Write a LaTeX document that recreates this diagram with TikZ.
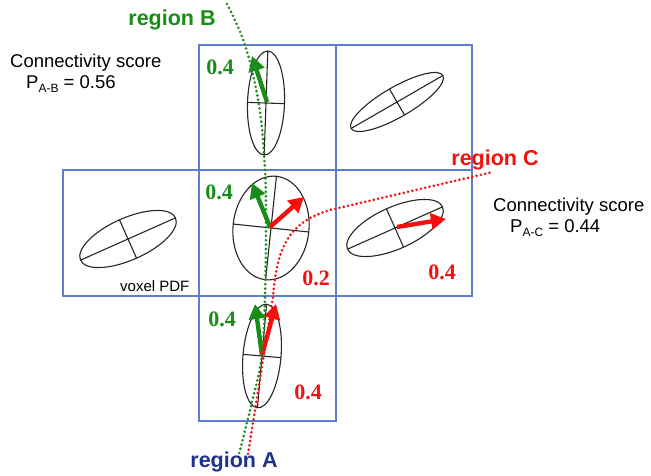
\documentclass[tikz,border=0pt]{standalone}
\usepackage{fontspec}
\setmainfont{Liberation Serif}
\setsansfont{Liberation Sans}
\usetikzlibrary{arrows.meta}
\definecolor{gridblue}{RGB}{95,125,205}
\definecolor{tractgreen}{RGB}{25,140,25}
\definecolor{tractred}{RGB}{245,15,15}
\definecolor{navyblue}{RGB}{30,50,140}
\begin{document}
\begin{tikzpicture}[x=1pt,y=-1pt,
  cell/.style={draw=gridblue,line width=1.3pt},
  pdf/.style={draw=black!85,line width=1.1pt},
  tract/.style={line width=2.9pt,dash pattern=on 0pt off 4.4pt,line cap=round},
  vec/.style={line width=4.4pt,-{Triangle[length=15pt,width=16pt]}},
  reglabel/.style={font=\fontsize{21.5}{24}\selectfont\sffamily\bfseries,inner sep=0pt},
  numlabel/.style={font=\fontsize{22}{24}\selectfont\rmfamily\bfseries,inner sep=0pt},
  scorelabel/.style={font=\fontsize{18.5}{21}\selectfont\sffamily,inner sep=0pt,anchor=west}
]
\useasboundingbox (0,0) rectangle (651,475);
\fill[white] (0,0) rectangle (651,475);
% grid cells
\draw[cell] (199,45) rectangle (336,170);
\draw[cell] (336,45) rectangle (472,170);
\draw[cell] (63,170) rectangle (199,296);
\draw[cell] (199,170) rectangle (336,296);
\draw[cell] (336,170) rectangle (472,296);
\draw[cell] (199,296) rectangle (336,421);
% voxel PDFs
\begin{scope}[shift={(266,103)},rotate=-2]
 \draw[pdf] (0,0) ellipse [x radius=18.5pt,y radius=52pt];
 \draw[pdf] (-18.5,0) -- (18.5,0) (0,-52) -- (0,52);
\end{scope}
\begin{scope}[shift={(397,102)},rotate=30]
 \draw[pdf] (0,0) ellipse [x radius=53pt,y radius=15pt];
 \draw[pdf] (-53,0) -- (53,0) (0,-15) -- (0,15);
\end{scope}
\begin{scope}[shift={(128,239)},rotate=24]
 \draw[pdf] (0,0) ellipse [x radius=52pt,y radius=21pt];
 \draw[pdf] (-52,0) -- (52,0) (0,-21) -- (0,21);
\end{scope}
\begin{scope}[shift={(271,228)},rotate=-6]
 \draw[pdf] (0,0) ellipse [x radius=38pt,y radius=52pt];
 \draw[pdf] (-38,0) -- (38,0) (0,-52) -- (0,52);
\end{scope}
\begin{scope}[shift={(395,228)},rotate=24]
 \draw[pdf] (0,0) ellipse [x radius=52pt,y radius=21pt];
 \draw[pdf] (-52,0) -- (52,0) (0,-21) -- (0,21);
\end{scope}
\begin{scope}[shift={(262,356)},rotate=-5]
 \draw[pdf] (0,0) ellipse [x radius=19pt,y radius=52pt];
 \draw[pdf] (-19,0) -- (19,0) (0,-52) -- (0,52);
\end{scope}
% fibre direction vectors
\coordinate (ctop) at (267,102);
\coordinate (cmid) at (270,227);
\coordinate (cright) at (397,227);
\coordinate (cbot) at (262,355);
\coordinate (gtop) at (252,56);
\coordinate (gmid) at (252,183);
\coordinate (rmid) at (304,197);
\coordinate (rright) at (446,219);
\coordinate (gbot) at (255,304);
\coordinate (rbot) at (276,304);
\draw[vec,tractgreen] (ctop) -- (gtop);
\draw[vec,tractgreen] (cmid) -- (gmid);
\draw[vec,tractred] (cmid) -- (rmid);
\draw[vec,tractred] (cright) -- (rright);
\draw[vec,tractgreen] (cbot) -- (gbot);
\draw[vec,tractred] (cbot) -- (rbot);
% region labels
\node[reglabel,text=tractgreen] (regB) at (172,20) {region B};
\node[reglabel,text=tractred] (regC) at (495,160) {region C};
\node[reglabel,text=navyblue] (regA) at (234,462) {region A};
% tracts
\coordinate (gstart) at (227,4);
\coordinate (gend) at (239,454);
\coordinate (rstart) at (248,454);
\coordinate (rend) at (493,172);
\draw[tract,tractgreen] plot[smooth,tension=0.6] coordinates {(gstart) (245,45) (259,105) (265,170) (266,230) (265,296) (262,355) (252,402) (gend)};
\draw[tract,tractred] (rstart) -- (273,297) .. controls (277,245) and (290,222) .. (330,210) -- (rend);
% probabilities
\node[numlabel,text=tractgreen] (p1) at (220,67) {0.4};
\node[numlabel,text=tractgreen] (p2) at (219,192) {0.4};
\node[numlabel,text=tractgreen] (p3) at (222,319) {0.4};
\node[numlabel,text=tractred] (p4) at (316,278) {0.2};
\node[numlabel,text=tractred] (p5) at (442,272) {0.4};
\node[numlabel,text=tractred] (p6) at (308,392) {0.4};
% scores
\node[scorelabel] (s1) at (10,63) {Connectivity score};
\node[scorelabel] (s2) at (26,84) {P\raisebox{-0.45ex}{\fontsize{12}{12}\selectfont A-B} = 0.56};
\node[scorelabel] (s3) at (493,207) {Connectivity score};
\node[scorelabel] (s4) at (510,228) {P\raisebox{-0.45ex}{\fontsize{12}{12}\selectfont A-C} = 0.44};
\node[font=\fontsize{15}{17}\selectfont\sffamily,inner sep=0pt,anchor=west] (vox) at (120,286) {voxel PDF};
\end{tikzpicture}
\end{document}
